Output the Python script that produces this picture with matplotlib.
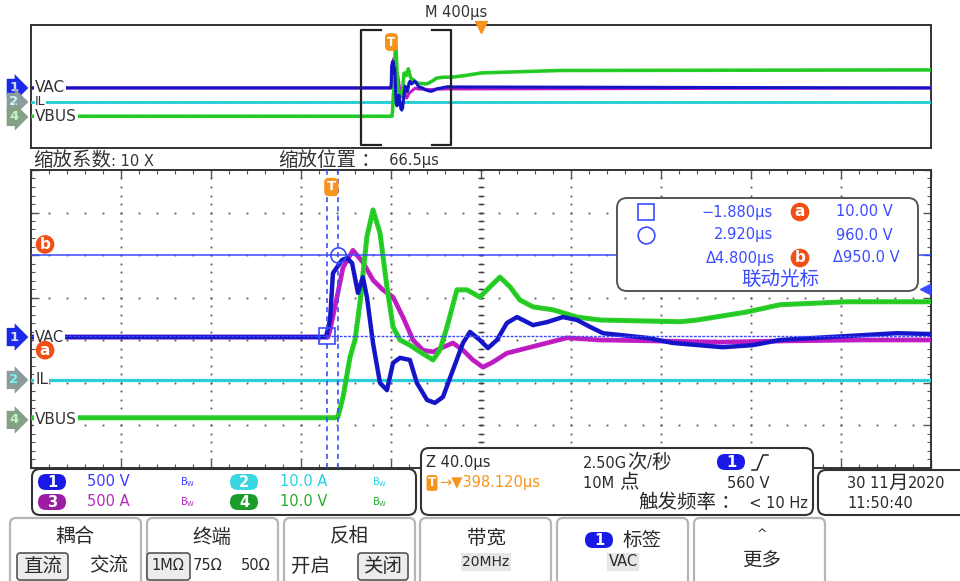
import numpy as np
import matplotlib
matplotlib.use('Agg')
import matplotlib.pyplot as plt
from matplotlib.patches import FancyBboxPatch
from matplotlib.offsetbox import TextArea, HPacker, AnnotationBbox

plt.rcParams['font.family'] = ['DejaVu Sans', 'Noto Sans CJK SC']

# ---- values (time in us from trigger) ----
vac_t = [-133.5, -2.4, -0.6, 0.7, 2.5, 4.7, 6.9, 9.2, 11.8, 14.0,
         15.8, 18.5, 21.6, 24.7, 27.4, 30.5, 34.9, 38.0, 42.5, 46.0,
         49.6, 54.0, 58.5, 61.6, 66.0, 69.6, 73.6, 78.0, 82.5, 89.6,
         95.8, 102.9, 109.2, 114.9, 120.7, 140.3, 151.8, 174.0, 187.4, 199.4,
         221.6, 251.4, 266.5]
vac_v = [0, 0, 200, 750, 820, 905, 930, 870, 520, 705,
         470, -70, -540, -625, -305, -245, -270, -540, -740, -775,
         -705, -390, -70, 60, -35, -130, -35, 165, 235, 140,
         175, 235, 200, 120, 45, -10, -70, -120, -95, -35,
         0, 45, 35]

i3_t = [-133.5, -1.5, -0.6, 2.5, 5.2, 9.6, 14.0, 18.5, 22.9, 27.4,
        31.8, 36.3, 40.7, 45.2, 49.6, 54.0, 58.5, 62.9, 67.4, 71.8,
        78.0, 86.9, 95.8, 104.7, 119.4, 141.6, 172.7, 203.8, 234.9, 266.5]
i3_a = [0, 0, 80, 470, 820, 1020, 880, 670, 555, 470,
        235, -35, -155, -175, -120, -70, -155, -270, -355, -295,
        -190, -130, -70, -10, -35, -45, -60, -45, -35, -35]

vbus_t = [-133.5, 1.6, 2.9, 5.2, 8.3, 10.5, 12.7, 15.8, 18.5, 21.6,
          24.7, 27.4, 30.5, 34.9, 39.4, 45.2, 48.3, 51.4, 55.8, 60.3,
          66.0, 70.5, 74.9, 79.4, 83.8, 89.6, 98.5, 109.2, 119.4, 155.0,
          162.5, 184.7, 199.4, 229.2, 266.5]
vbus_v = [0.5, 0.5, 0.7, 5.4, 14.8, 18.8, 27.5, 43.1, 49.4, 44.0,
          31.3, 21.9, 18.8, 17.6, 16.0, 14.1, 16.5, 21.9, 30.6, 30.6,
          28.9, 31.3, 33.6, 31.3, 28.2, 26.6, 25.9, 24.2, 23.5, 23.1,
          23.5, 25.4, 27.1, 27.8, 27.8]

il_t = [-133.5, 266.5]
il_a = [0.0, 0.0]

# long record (overview) beyond the zoom window
rec_start, rec_end = -1602, 2400
vbus_tail_t = [330, 400, 750, 2400]
vbus_tail_v = [29.0, 30.8, 32.5, 32.9]

# scope settings
zoom_pos, zoom_div = 66.5, 40.0
main_center, main_div = 398.12, 400.0
scale = {'VAC': 500, 'IL': 10, 'I3': 500, 'VBUS': 10}
cur_t = [-1.880, 2.920]
cur_v = [10.0, 960.0]
trig_level = 560

pos_main = {'VAC': 3.07, 'IL': 2.06, 'I3': 3.07, 'VBUS': 1.12}
pos_ov = {'VAC': 4.2, 'IL': 3.22, 'I3': 4.2, 'VBUS': 2.17}

BLUE, MAG, GRN, CYN = '#1616cc', '#c21ec6', '#27cf27', '#2fd4dc'
CUR, ORG, RED, TXT = '#3a4cff', '#f7941d', '#f24f17', '#2a2a2a'
dark = {BLUE: '#00005a', MAG: '#5a085a', GRN: '#0e600e', CYN: '#1a5a5a'}

W, H = 960, 581
fig = plt.figure(figsize=(W / 100, H / 100), dpi=100)


def place(l, t, r, b):
    return [l / W, 1 - b / H, (r - l) / W, (b - t) / H]


ax = fig.add_axes(place(31, 170, 931, 467.5))
ov = fig.add_axes(place(31, 25, 931, 148))
ui = fig.add_axes([0, 0, 1, 1], zorder=10)
ui.set_xlim(0, W)
ui.set_ylim(H, 0)
ui.axis('off')


def trace(a, t, v, ch, pos, col, lw, z):
    y = np.asarray(v, float) / scale[ch] + pos[ch]
    a.plot(t, y, color=col, lw=lw, zorder=z, solid_joinstyle='round')
    a.plot(t, y, color=dark[col], lw=0.7, ls=(0, (0.6, 2.6)), alpha=0.7, zorder=z + 0.1)


def flag(a, y, label, fc, tc):
    a.text(-0.019, y, label, transform=a.get_yaxis_transform(), ha='center', va='center',
           fontsize=9.5, color=tc, fontweight='bold', clip_on=False, zorder=30,
           bbox=dict(boxstyle='rarrow,pad=0.2', fc=fc, ec='none'))


def chname(a, y, label, size=11):
    a.text(0.0045, y, label, transform=a.get_yaxis_transform(), ha='left', va='center',
           fontsize=size, color='#333', zorder=25,
           bbox=dict(fc='white', ec='none', pad=0.4))


def tmark(a, x, y, size=9.5):
    a.text(x, y, 'T', ha='center', va='center', color='white', fontsize=size,
           fontweight='bold', zorder=30, clip_on=False,
           bbox=dict(boxstyle='round,pad=0.2,rounding_size=0.35', fc=ORG, ec='none'))


def abmark(a, x, y, label, **kw):
    a.annotate(label, (x, y), ha='center', va='center', color='white', fontsize=11,
               fontweight='bold', zorder=30, annotation_clip=False,
               bbox=dict(boxstyle='circle,pad=0.12', fc=RED, ec='none'), **kw)


# ---- zoom window ----
x0, x1 = zoom_pos - 5 * zoom_div, zoom_pos + 5 * zoom_div
ax.set_xlim(x0, x1)
ax.set_ylim(0, 7)
ax.set_xticks(np.arange(0, 11) * zoom_div + x0)
ax.set_xticks(np.arange(0, 51) * zoom_div / 5 + x0, minor=True)
ax.set_yticks(range(8))
ax.set_yticks(np.arange(0, 36) * 0.2, minor=True)
ax.tick_params(which='both', direction='in', top=True, right=True,
               labelbottom=False, labelleft=False, color='#555')
ax.tick_params(which='major', length=6, width=1)
ax.tick_params(which='minor', length=3, width=0.8)
for s in ax.spines.values():
    s.set_color('#333')
    s.set_linewidth(1.4)

gy = np.arange(0, 36) * 0.2
gx = np.arange(0, 51) * zoom_div / 5 + x0
for k in range(1, 10):
    ax.plot(np.full_like(gy, x0 + k * zoom_div), gy, ls='none', marker='s', ms=1.3,
            mew=0, color='#555', zorder=1)
for j in range(1, 7):
    ax.plot(gx, np.full_like(gx, j), ls='none', marker='s', ms=1.3, mew=0,
            color='#555', zorder=1)
ax.plot(np.full_like(gy, zoom_pos), gy, ls='none', marker='_', ms=5, mew=1,
        color='#444', zorder=1)

trace(ax, il_t, il_a, 'IL', pos_main, CYN, 2.4, 3)
trace(ax, i3_t, i3_a, 'I3', pos_main, MAG, 3.4, 4)
trace(ax, vbus_t, vbus_v, 'VBUS', pos_main, GRN, 3.6, 5)
trace(ax, vac_t, vac_v, 'VAC', pos_main, BLUE, 3.2, 6)

cy = [v / scale['VAC'] + pos_main['VAC'] for v in cur_v]
ax.axhline(cy[1], color=CUR, lw=1.1, zorder=7)
ax.axhline(cy[0], color=CUR, lw=1.0, ls=(0, (2, 1)), zorder=7)
for t in cur_t:
    ax.axvline(t, color=CUR, lw=1.2, ls=(0, (3, 2.5)), zorder=8)
ax.plot(cur_t[0], cy[0], marker='s', ms=11, mfc='none', mec=CUR, mew=1.2, zorder=9)
ax.plot(cur_t[1], cy[1], marker='o', ms=11, mfc='none', mec=CUR, mew=1.2, zorder=9)
ax.plot(x1 - 2.5, trig_level / scale['VAC'] + pos_main['VAC'], marker='<', ms=7,
        color=CUR, clip_on=False, zorder=9)
tmark(ax, 0, 6.6)

yx = ax.get_yaxis_transform()
abmark(ax, 0.0156, cy[1], 'b', xycoords=yx, xytext=(0, 11), textcoords='offset pixels')
abmark(ax, 0.0156, cy[0], 'a', xycoords=yx, xytext=(0, -14), textcoords='offset pixels')

flag(ax, pos_main['VAC'], '1', '#1a2ae8', '#d8dcff')
flag(ax, pos_main['IL'], '2', '#8a9c9c', '#7ff0f4')
flag(ax, pos_main['VBUS'], '4', '#86a086', '#bff5bf')
chname(ax, pos_main['VAC'], 'VAC', 10.5)
chname(ax, pos_main['IL'], 'IL')
chname(ax, pos_main['VBUS'], 'VBUS')

# ---- overview of the whole record ----
o0, o1 = main_center - 5 * main_div, main_center + 5 * main_div
ov.set_xlim(o0, o1)
ov.set_ylim(0, 8.6)
ov.set_xticks([])
ov.set_yticks([])
for s in ov.spines.values():
    s.set_color('#333')
    s.set_linewidth(1.4)

trace(ov, np.r_[rec_start, il_t, rec_end], np.r_[0, il_a, 0], 'IL', pos_ov, CYN, 2.2, 3)
trace(ov, np.r_[rec_start, i3_t, rec_end], np.r_[0, i3_a, 0], 'I3', pos_ov, MAG, 2.2, 4)
trace(ov, np.r_[rec_start, vbus_t, vbus_tail_t], np.r_[vbus_v[0], vbus_v, vbus_tail_v],
      'VBUS', pos_ov, GRN, 2.6, 5)
trace(ov, np.r_[rec_start, vac_t, rec_end], np.r_[0, vac_v, 0], 'VAC', pos_ov, BLUE, 2.2, 6)

tick = 0.022 * (o1 - o0)
for xb, d in ((x0, 1), (x1, -1)):
    ov.plot([xb + d * tick, xb, xb, xb + d * tick], [8.25, 8.25, 0.22, 0.22],
            color='#222', lw=1.6, zorder=8)
tmark(ov, 0, 7.41, size=8.5)
ov.plot(main_center, 8.45, marker='v', ms=8, color=ORG, clip_on=False, zorder=9)

flag(ov, pos_ov['VAC'], '1', '#1a2ae8', '#d8dcff')
flag(ov, pos_ov['IL'], '2', '#8a9c9c', '#d0f4f4')
flag(ov, pos_ov['VBUS'], '4', '#86a086', '#bff5bf')
chname(ov, pos_ov['IL'], 'IL', 9)
chname(ov, pos_ov['VAC'], 'VAC')
chname(ov, pos_ov['VBUS'], 'VBUS')


# ---- screen furniture ----
def is_cjk(c):
    o = ord(c)
    return 0x2E80 <= o <= 0x9FFF or 0xFF00 <= o <= 0xFFEF


def say(x, y, s, color=TXT, size=10.5, csize=14, ha='left', bg=None):
    runs = []
    for c in s:
        k = is_cjk(c)
        if runs and runs[-1][0] == k:
            runs[-1][1] += c
        else:
            runs.append([k, c])
    kids = [TextArea(r, textprops=dict(color=color, fontsize=csize if k else size,
                                       family='Noto Sans CJK SC' if k else 'DejaVu Sans'))
            for k, r in runs]
    pack = HPacker(children=kids, align='baseline', pad=0, sep=0)
    fx = {'left': 0, 'center': 0.5, 'right': 1}[ha]
    if bg:
        ab = AnnotationBbox(pack, (x, y), box_alignment=(fx, 0.5), pad=0.12,
                            bboxprops=dict(fc=bg, ec='none', boxstyle='square,pad=0.12'))
    else:
        ab = AnnotationBbox(pack, (x, y), box_alignment=(fx, 0.5), frameon=False, pad=0)
    ui.add_artist(ab)


def panel(l, t, r, b, ec='#333', lw=1.5, rs=8, fc='white'):
    ui.add_patch(FancyBboxPatch((l, t), r - l, b - t, boxstyle=f'round,pad=0,rounding_size={rs}',
                                fc=fc, ec=ec, lw=lw, zorder=1))


def pill(cx, cy_, label, fc, w=28, h=16):
    ui.add_patch(FancyBboxPatch((cx - w / 2, cy_ - h / 2), w, h,
                                boxstyle=f'round,pad=0,rounding_size={h / 2}',
                                fc=fc, ec='none', zorder=3))
    ui.text(cx, cy_ + 0.5, label, ha='center', va='center', color='white', fontsize=10.5,
            fontweight='bold', zorder=4)


def bw(x, y, col):
    ui.text(x, y, r'$\mathregular{B_W}$', color=col, fontsize=7, ha='left', va='center', zorder=4)


say(425, 12, 'M 400µs', color='#333')
say(33, 160, '缩放系数: 10 X', color='#333')
say(278, 160, '缩放位置 ：  66.5µs', color='#333')

# cursor readout
panel(617, 198, 918, 291, ec='#555', lw=1.4, rs=10)
ui.plot(646, 212, marker='s', ms=12, mfc='none', mec=CUR, mew=1.2, zorder=3)
ui.plot(646, 235, marker='o', ms=12, mfc='none', mec=CUR, mew=1.2, zorder=3)
say(773, 212, f'{cur_t[0]:.3f}µs'.replace('-', '−'), color=CUR, ha='right')
say(773, 235, f'{cur_t[1]:.3f}µs', color=CUR, ha='right')
say(775, 258, f'Δ{cur_t[1] - cur_t[0]:.3f}µs', color=CUR, ha='right')
say(893, 212, f'{cur_v[0]:.2f} V', color=CUR, ha='right')
say(893, 235, f'{cur_v[1]:.1f} V', color=CUR, ha='right')
say(900, 258, f'Δ{cur_v[1] - cur_v[0]:.1f} V', color=CUR, ha='right')
abmark(ui, 800, 212, 'a')
abmark(ui, 800, 258, 'b')
say(780, 279, '联动光标', color=CUR, ha='center')

# channel settings
panel(32, 469, 416, 515)
pill(52, 482, '1', '#1a1ae6')
say(87, 482, '500 V', color='#3b3bff')
bw(180, 482, '#3b3bff')
pill(244, 482, '2', '#3ad6e0')
say(280, 482, '10.0 A', color='#26d2e4')
bw(372, 482, '#26d2e4')
pill(52, 502, '3', '#9c1ca4')
say(87, 502, '500 A', color='#b42abc')
bw(180, 502, '#b42abc')
pill(244, 502, '4', '#1c9c2c')
say(280, 502, '10.0 V', color='#2aaa2a')
bw(372, 502, '#2aaa2a')

# timebase / trigger
panel(421, 448, 813, 515)
say(426, 462, 'Z 40.0µs')
say(583, 462, '2.50G次/秒')
pill(731, 462, '1', '#1a1ae6')
ui.plot([752, 757, 763, 768], [470, 470, 455, 455], color='#222', lw=1.1, zorder=4)
ui.text(432, 483, 'T', ha='center', va='center', color='white', fontsize=8.5, fontweight='bold',
        zorder=4, bbox=dict(boxstyle='round,pad=0.12,rounding_size=0.2', fc=ORG, ec='none'))
say(439, 483, f'→▼{main_center:.3f}µs', color=ORG)
say(583, 483, '10M 点')
say(727, 483, f'{trig_level} V')
say(808, 503, '触发频率 ：  < 10 Hz', ha='right')

panel(818, 470, 975, 515)
say(847, 483, '30 11月2020')
say(847, 503, '11:50:40')

# soft buttons
for l in [10, 147, 284, 420, 557, 694]:
    panel(l, 518, l + 131, 600, ec='#b5b5b5', lw=1.6, rs=6)
for l, r in [(17, 68), (147, 190), (358, 408)]:
    panel(l, 553, r, 580, ec='#555', lw=1.2, rs=3, fc='#ececec')
say(75, 537, '耦合', ha='center')
say(43, 566, '直流', ha='center')
say(109, 566, '交流', ha='center')
say(212, 537, '终端', ha='center')
say(168, 566, '1MΩ', ha='center')
say(208, 566, '75Ω', ha='center')
say(256, 566, '50Ω', ha='center')
say(349, 537, '反相', ha='center')
say(310, 566, '开启', ha='center')
say(383, 566, '关闭', ha='center')
say(486, 539, '带宽', ha='center')
say(486, 562, '20MHz', ha='center', bg='#e6e6e6', size=10)
pill(599, 540, '1', '#1a1ae6')
say(642, 540, '标签', ha='center')
say(623, 562, 'VAC', ha='center', bg='#e6e6e6', size=10.5)
say(762, 535, '^', ha='center', size=9)
say(762, 561, '更多', ha='center')

fig.savefig('out.png', dpi=100)
